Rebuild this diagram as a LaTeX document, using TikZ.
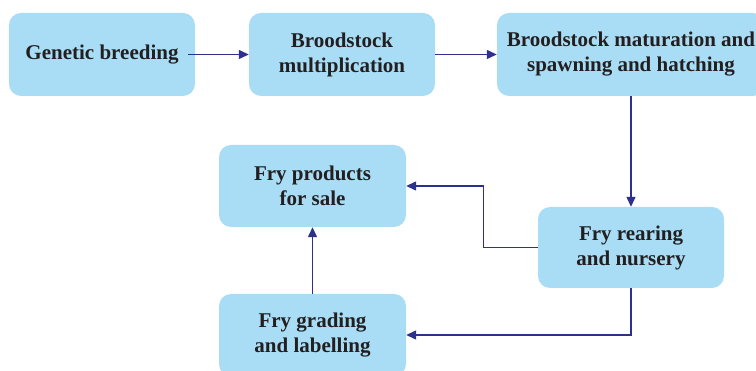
\documentclass[tikz,border=0pt]{standalone}
\usepackage{fontspec}
\setmainfont{Liberation Serif}
\usetikzlibrary{arrows.meta}
\definecolor{boxblue}{RGB}{168,221,245}
\definecolor{arrowblue}{RGB}{46,49,140}
\definecolor{txt}{RGB}{35,31,32}
\begin{document}
\begin{tikzpicture}[x=1pt,y=-1pt,
  box/.style={fill=boxblue, rounded corners=12pt, align=center,
    font=\fontsize{21}{25}\selectfont\bfseries, text=txt, inner sep=0pt,
    minimum width=186pt, minimum height=83pt},
  conn/.style={draw=arrowblue, line width=1.3pt, -{Triangle[length=10pt,width=9pt]}}]
\useasboundingbox (0,0) rectangle (756,371);
\clip (0,0) rectangle (756,371);
\node[box] (b1) at (102,54.5) {Genetic breeding};
\node[box] (b2) at (342,54.5) {Broodstock\\multiplication};
\node[box, minimum width=268pt] (b3) at (631,54.5) {Broodstock maturation and\\spawning and hatching};
\node[box, minimum height=81pt] (b4) at (631,247.5) {Fry rearing\\and nursery};
\node[box, minimum width=187pt, minimum height=82pt] (b5) at (312.5,186) {Fry products\\for sale};
\node[box, minimum width=187pt, minimum height=82pt] (b6) at (312.5,335) {Fry grading\\and labelling};
\draw[conn] ([xshift=-7pt]b1.east) -- (b2.west);
\draw[conn] (b2.east) -- (b3.west);
\draw[conn] (b3.south) -- (b4.north);
\draw[conn] (b4.west) -- ++(-54,0) |- (b5.east);
\draw[conn] (b4.south) |- (b6.east);
\draw[conn] (b6.north) -- (b5.south);
\end{tikzpicture}
\end{document}
